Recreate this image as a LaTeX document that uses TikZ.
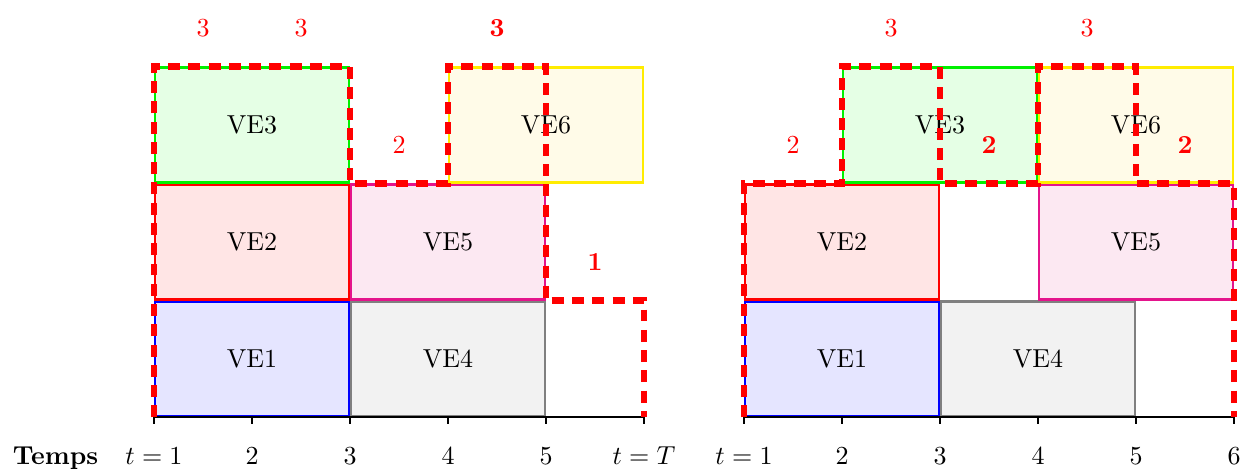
\documentclass[tikz,border=0pt]{standalone}
\definecolor{vepink}{RGB}{228,20,140}
\definecolor{vepinkfill}{RGB}{252,232,242}
\definecolor{veyellow}{RGB}{255,236,0}
\definecolor{veyellowfill}{RGB}{255,251,232}
\definecolor{vegreen}{RGB}{0,240,0}
\begin{document}
\begin{tikzpicture}[x=37.7pt, y=45pt,
  vebox/.style={line width=0.9pt},
  cnt/.style={text=red},
  bnd/.style={red, line width=2.4pt, dash pattern=on 4.6pt off 3.2pt, line join=miter},
  axisline/.style={line width=0.8pt},
  tickl/.style={anchor=base}]
\useasboundingbox (-1.5714,-0.4402) rectangle (11.1122,3.5684);
\def\e{0.009}

% ---------- left diagram ----------
\begin{scope}
  \draw[vebox, draw=blue, fill=blue!10] (0+\e,0+\e) rectangle node (a1) {VE1} (2-\e,1-\e);
  \draw[vebox, draw=gray, fill=gray!10] (2+\e,0+\e) rectangle node (a4) {VE4} (4-\e,1-\e);
  \draw[vebox, draw=red, fill=red!10] (0+\e,1+\e) rectangle node (a2) {VE2} (2-\e,2-\e);
  \draw[vebox, draw=vepink, fill=vepinkfill] (2+\e,1+\e) rectangle node (a5) {VE5} (4-\e,2-\e);
  \draw[vebox, draw=vegreen, fill=green!10] (0+\e,2+\e) rectangle node (a3) {VE3} (2-\e,3-\e);
  \draw[vebox, draw=veyellow, fill=veyellowfill] (3+\e,2+\e) rectangle node (a6) {VE6} (5-\e,3-\e);
  \draw[axisline] (0,0) -- (5,0);
  \foreach \i in {0,...,5} \draw[axisline] (\i,0) -- (\i,-0.055);
  \node[tickl] (at1) at (0,-0.405) {$t=1$};
  \node[tickl] (at2) at (1,-0.405) {2};
  \node[tickl] (at3) at (2,-0.405) {3};
  \node[tickl] (at4) at (3,-0.405) {4};
  \node[tickl] (at5) at (4,-0.405) {5};
  \node[tickl] (at6) at (5,-0.405) {$t=T$};
  \node[tickl, font=\bfseries] (temps) at (-1.005,-0.405) {Temps};
  \draw[bnd] (0,0) -- (0,3) -- (2,3) -- (2,2) -- (3,2) -- (3,3) -- (4,3) -- (4,1) -- (5,1) -- (5,0);
  \node[cnt] (ac1) at (0.5,3.33) {3};
  \node[cnt] (ac2) at (1.5,3.33) {3};
  \node[cnt] (ac3) at (2.5,2.33) {2};
  \node[cnt, font=\bfseries] (ac4) at (3.5,3.33) {3};
  \node[cnt, font=\bfseries] (ac5) at (4.5,1.33) {1};
\end{scope}

% ---------- right diagram ----------
\begin{scope}[shift={(6.0204,0)}]
  \draw[vebox, draw=blue, fill=blue!10] (0+\e,0+\e) rectangle node (b1) {VE1} (2-\e,1-\e);
  \draw[vebox, draw=gray, fill=gray!10] (2+\e,0+\e) rectangle node (b4) {VE4} (4-\e,1-\e);
  \draw[vebox, draw=red, fill=red!10] (0+\e,1+\e) rectangle node (b2) {VE2} (2-\e,2-\e);
  \draw[vebox, draw=vepink, fill=vepinkfill] (3+\e,1+\e) rectangle node (b5) {VE5} (5-\e,2-\e);
  \draw[vebox, draw=vegreen, fill=green!10] (1+\e,2+\e) rectangle node (b3) {VE3} (3-\e,3-\e);
  \draw[vebox, draw=veyellow, fill=veyellowfill] (3+\e,2+\e) rectangle node (b6) {VE6} (5-\e,3-\e);
  \draw[axisline] (0,0) -- (5,0);
  \foreach \i in {0,...,5} \draw[axisline] (\i,0) -- (\i,-0.055);
  \node[tickl] (bt1) at (0,-0.405) {$t=1$};
  \node[tickl] (bt2) at (1,-0.405) {2};
  \node[tickl] (bt3) at (2,-0.405) {3};
  \node[tickl] (bt4) at (3,-0.405) {4};
  \node[tickl] (bt5) at (4,-0.405) {5};
  \node[tickl] (bt6) at (5,-0.405) {6};
  \draw[bnd] (0,0) -- (0,2) -- (1,2) -- (1,3) -- (2,3) -- (2,2) -- (3,2) -- (3,3) -- (4,3) -- (4,2) -- (5,2) -- (5,0);
  \node[cnt] (bc1) at (0.5,2.33) {2};
  \node[cnt] (bc2) at (1.5,3.33) {3};
  \node[cnt, font=\bfseries] (bc3) at (2.5,2.33) {2};
  \node[cnt] (bc4) at (3.5,3.33) {3};
  \node[cnt, font=\bfseries] (bc5) at (4.5,2.33) {2};
\end{scope}
\end{tikzpicture}
\end{document}
